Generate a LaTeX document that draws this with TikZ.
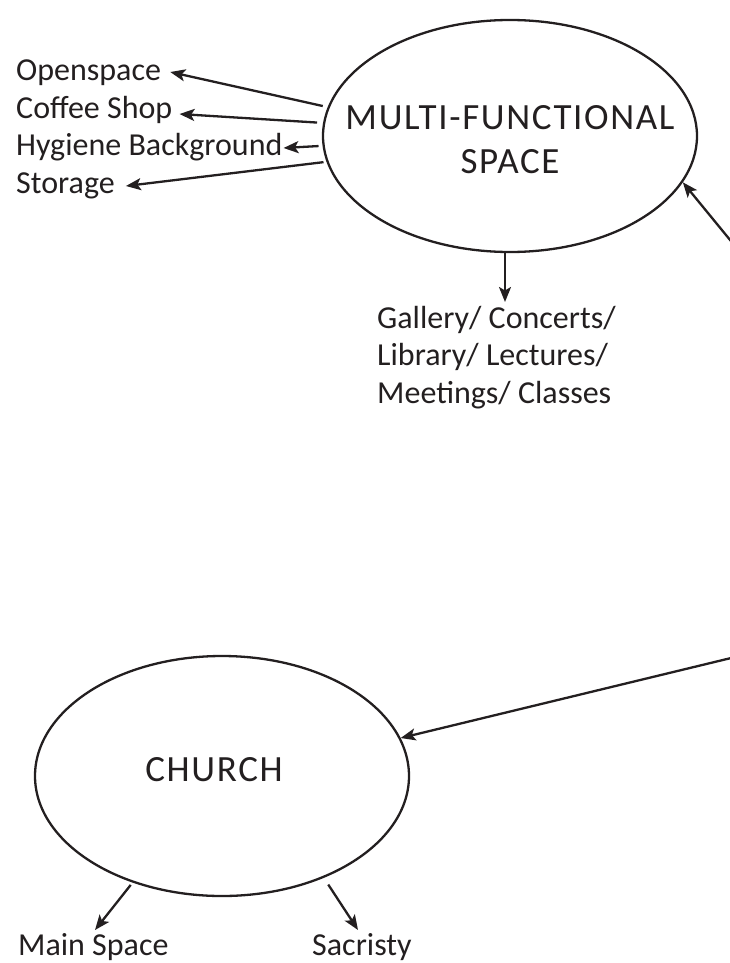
\documentclass[tikz,border=0pt]{standalone}
\usepackage{fontspec}
\setmainfont{Carlito}
\newfontfamily\spacedfont[LetterSpace=4.5]{Carlito}
\usetikzlibrary{arrows.meta,shapes.geometric}
\definecolor{ink}{RGB}{35,31,32}
\begin{document}
\begin{tikzpicture}[x=1pt,y=-1pt,
  every node/.style={text=ink},
  bubble/.style={draw=ink, line width=2.3pt, ellipse, inner sep=0pt,
    font=\spacedfont\fontsize{37}{44}\selectfont},
  lbl/.style={inner sep=0pt, font=\fontsize{32}{37.5}\selectfont},
  arr/.style={draw=ink, line width=2.3pt, -{Stealth[length=15pt,width=12pt,inset=3.5pt]}}]
\useasboundingbox (0,0) rectangle (730,963);

% main bubbles
\node[bubble, minimum width=374pt, minimum height=232pt, align=center] (mf) at (510,136)
  {\rule{0pt}{32pt}\makebox[0pt]{MULTI-FUNCTIONAL}\\\makebox[0pt]{SPACE}};
\node[bubble, minimum width=374pt, minimum height=240pt] (ch) at (222,776)
  {\rule[-14pt]{0pt}{14pt}\makebox[0pt]{\kern-16pt CHURCH}};

% labels
\node[lbl, anchor=base west] (os) at (16,81) {Openspace};
\node[lbl, anchor=base west] (cs) at (16,118) {Coffee Shop};
\node[lbl, anchor=base west] (hb) at (16,155) {Hygiene Background};
\node[lbl, anchor=base west] (st) at (16,193) {Storage};
\node[lbl, anchor=north west, align=left] (gal) at (377,304)
  {\rule{0pt}{24pt}Gallery/ Concerts/\\Library/ Lectures/\\Meetings/ Classes};
\node[lbl, anchor=base west] (ms) at (18,955) {Main Space};
\node[lbl, anchor=base west] (sa) at (312,955) {Sacristy};

% free ends beyond the right edge
\coordinate (r1) at (744,257);
\coordinate (r2) at (760,651);

% connectors
\draw[arr, shorten <=5pt] (mf.171.6) -- ([xshift=9pt,yshift=9pt]os.base east);
\draw[arr, shorten <=6pt] (mf.176.3) -- ([xshift=7pt,yshift=4pt]cs.base east);
\draw[arr, shorten <=4pt] (mf.183.4) -- ([xshift=1pt,yshift=7pt]hb.base east);
\draw[arr, shorten <=3pt] (mf.188.8) -- ([xshift=11pt,yshift=7pt]st.base east);
\draw[arr] ([xshift=-5pt]mf.south) -- ([xshift=128pt,yshift=2pt]gal.north west);
\draw[arr] (r1) -- (mf.345.1);
\draw[arr] (r2) -- (ch.12.5);
\draw[arr, shorten <=3pt] (ch.230.1) -- ([xshift=77pt,yshift=25pt]ms.base west);
\draw[arr, shorten <=8pt] (ch.315.8) -- ([xshift=46pt,yshift=25pt]sa.base west);
\end{tikzpicture}
\end{document}
